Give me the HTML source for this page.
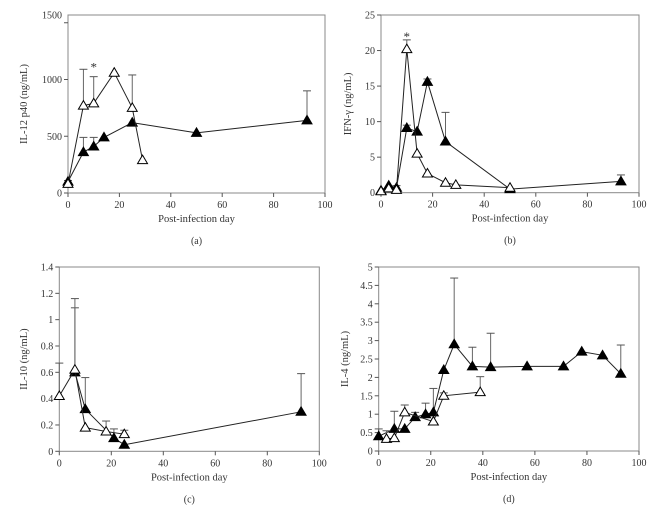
<!DOCTYPE html>
<html><head><meta charset="utf-8"><style>
body{margin:0;background:#fff;}
svg{display:block;font-family:"Liberation Serif",serif;}
</style></head><body>
<svg id="fig" width="666" height="514" viewBox="0 0 666 514" xmlns="http://www.w3.org/2000/svg"></svg>
<script>
// Panel (a) IL-12 p40
const aOpenX=[0,6,10,18,25,29];
const aOpenY=[80,770,790,1060,750,290];
const aOpenErr=[null,1090,1025,null,1040,null];
const aFillX=[0,6,10,14,25,50,93];
const aFillY=[100,360,410,490,620,530,640];
const aFillErr=[110,490,490,null,null,null,900];
const aTicks=[0,500,1000,1500];
// Panel (b) IFN-gamma
const bOpenX=[0,3,6,10,14,18,25,29,50];
const bOpenY=[0.2,0.6,0.4,20.2,5.5,2.7,1.4,1.1,0.7];
const bOpenErr=[null,null,null,21.5,null,null,null,null,null];
const bFillX=[0,3,6,10,14,18,25,50,93];
const bFillY=[0.3,1.0,0.7,9.1,8.6,15.6,7.2,0.5,1.6];
const bFillErr=[null,null,1.0,9.5,null,16,11.3,null,2.5];
const bTicks=[0,5,10,15,20,25];
// Panel (c) IL-10
const cOpenX=[0,6,10,18,25];
const cOpenY=[0.42,0.62,0.18,0.15,0.13];
const cOpenErr=[0.67,1.16,null,0.23,0.16];
const cFillX=[6,10,21,25,93];
const cFillY=[0.6,0.32,0.1,0.05,0.3];
const cFillErr=[1.09,0.56,0.17,null,0.59];
const cTicks=[0,0.2,0.4,0.6,0.8,1,1.2,1.4];
// Panel (d) IL-4
const dFillX=[0,6,10,14,18,21,25,29,36,43,57,71,78,86,93];
const dFillY=[0.4,0.6,0.6,0.92,1.0,1.05,2.2,2.9,2.3,2.28,2.3,2.3,2.7,2.6,2.1];
const dFillErr=[0.6,1.08,null,1.05,1.3,1.7,null,4.7,2.82,3.2,null,null,null,null,2.88];
const dOpenX=[3,6,10,21,25,39];
const dOpenY=[0.33,0.35,1.05,0.8,1.5,1.6];
const dOpenErr=[0.55,null,1.25,null,1.58,2.02];
const dTicks=[0,0.5,1,1.5,2,2.5,3,3.5,4,4.5,5];
const xTicks=[0,20,40,60,80,100];

const NS="http://www.w3.org/2000/svg";
const svg=document.getElementById('fig');
function mk(tag,attrs,parent,text){const e=document.createElementNS(NS,tag);for(const k in attrs)e.setAttribute(k,attrs[k]);if(text!==undefined)e.textContent=text;(parent||svg).appendChild(e);return e;}

function panel(p){
  const g=mk('g',{});
  
  
  const X=v=>p.x0+(p.x1-p.x0)*v/100;
  const Y=v=>p.y0+(p.y1-p.y0)*v/p.ymax;
  const f=mk('rect',{x:p.x0,y:p.top,width:p.x1-p.x0,height:p.y0-p.top,fill:'none',stroke:'#888','stroke-width':1},g);
  
  
  const ax=mk('g',{},g);
  
  
  p.ticks.forEach((t,i)=>{let y=Y(t); const ly=(i===p.ticks.length-1)?Math.max(p.top,Math.min(y,p.top)):y;
    mk('line',{x1:p.x0-4,x2:p.x0,y1:y,y2:y,stroke:'#555'},ax);
    const tx=mk('text',{x:p.x0-6,y:ly+3.5,'font-size':10,'text-anchor':'end',fill:'#333'},ax,String(t));
    
    
  });
  const xa=mk('g',{},g);
  
  
  xTicks.forEach(t=>{const x=X(t);
    mk('line',{x1:x,x2:x,y1:p.y0,y2:p.y0+4,stroke:'#555'},xa);
    const tx=mk('text',{x:x,y:p.y0+15,'font-size':10,'text-anchor':'middle',fill:'#333'},xa,String(t));
    
    
  });
  const xt=mk('text',{x:(p.x0+p.x1)/2,y:p.y0+29,'font-size':10.5,'text-anchor':'middle',fill:'#333'},g,'Post-infection day');
  
  
  const cx=p.ytx, cy=(p.top+p.y0)/2;
  const yt=mk('text',{x:cx,y:cy,'font-size':10.5,'text-anchor':'middle',fill:'#333',transform:`rotate(-90 ${cx} ${cy})`},g,p.ytitle);
  
  
  const pl=mk('text',{x:(p.x0+p.x1)/2,y:p.y0+51,'font-size':10,'text-anchor':'middle',fill:'#333'},g,'('+p.id+')');
  
  
  p.series.forEach(s=>{
    const sg=mk('g',{},g);
    
    
    s.err.forEach((e,i)=>{ if(e==null)return; const x=X(s.xs[i]);
      mk('line',{x1:x,x2:x,y1:Y(s.ys[i]),y2:Y(e),stroke:'#666'},sg);
      mk('line',{x1:x-4,x2:x+4,y1:Y(e),y2:Y(e),stroke:'#555'},sg);
    });
    mk('polyline',{points:s.xs.map((x,i)=>X(x)+','+Y(s.ys[i])).join(' '),fill:'none',stroke:'#222','stroke-width':1},sg);
    s.xs.forEach((x,i)=>{const px=X(x),py=Y(s.ys[i]);
      const m=mk('polygon',{points:`${px},${py-5} ${px-5},${py+3.5} ${px+5},${py+3.5}`,fill:s.fill?'#000':'#fff',stroke:'#000','stroke-width':1},sg);
      
      
    });
  });
  if(p.star){const st=mk('text',{x:X(p.star[0]),y:Y(p.star[1])+8,'font-size':13,'text-anchor':'middle',fill:'#333'},g,'*');
    
    }
}
panel({id:'a',x0:68,x1:325,y0:193,y1:79.5,ymax:1000,top:15,ticks:aTicks,ytitle:'IL-12 p40 (ng/mL)',ytx:27,star:[10,1140],
  series:[{name:'series-filled',xs:aFillX,ys:aFillY,err:aFillErr,fill:true},{name:'series-open',xs:aOpenX,ys:aOpenY,err:aOpenErr,fill:false}]});
panel({id:'b',x0:381,x1:639,y0:192.7,y1:15,ymax:25,top:15,ticks:bTicks,ytitle:'IFN-γ (ng/mL)',ytx:351,star:[10,22.5],
  series:[{name:'series-filled',xs:bFillX,ys:bFillY,err:bFillErr,fill:true},{name:'series-open',xs:bOpenX,ys:bOpenY,err:bOpenErr,fill:false}]});
panel({id:'c',x0:59.3,x1:319.3,y0:451.3,y1:267,ymax:1.4,top:267,ticks:cTicks,ytitle:'IL-10 (ng/mL)',ytx:27,
  series:[{name:'series-filled',xs:cFillX,ys:cFillY,err:cFillErr,fill:true},{name:'series-open',xs:cOpenX,ys:cOpenY,err:cOpenErr,fill:false}]});
panel({id:'d',x0:378.7,x1:639,y0:451,y1:267,ymax:5,top:267,ticks:dTicks,ytitle:'IL-4 (ng/mL)',ytx:348,
  series:[{name:'series-filled',xs:dFillX,ys:dFillY,err:dFillErr,fill:true},{name:'series-open',xs:dOpenX,ys:dOpenY,err:dOpenErr,fill:false}]});
</script>
</body></html>
